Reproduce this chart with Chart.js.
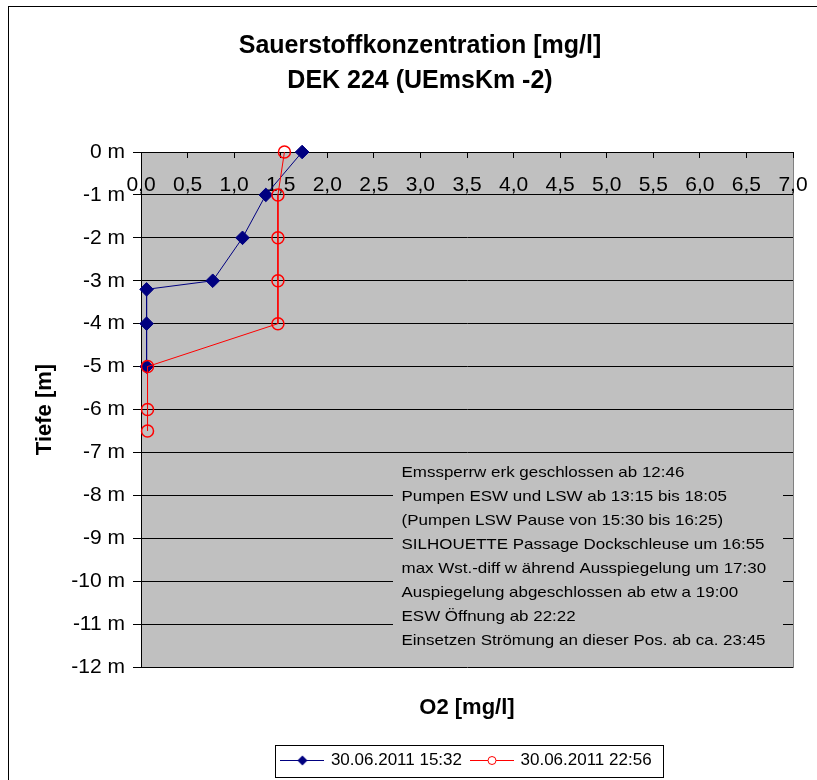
<!DOCTYPE html>
<html>
<head>
<meta charset="utf-8">
<title>Sauerstoffkonzentration DEK 224</title>
<script src="https://cdn.jsdelivr.net/npm/chart.js@4.4.1/dist/chart.umd.min.js"></script>
<style>
    html, body { margin: 0; padding: 0; background: #fff; }
    canvas { display: block; }
</style>
</head>
<body>
<canvas id="o2Chart" width="817" height="780"></canvas>
<script>
// Messprofile (Tiefe in m, O2 in mg/l)
const depthProfile1 = [0, -1, -2, -3, -3.2, -4, -5];
const o2Profile1 = [1.73, 1.34, 1.09, 0.77, 0.06, 0.06, 0.06];
const depthProfile2 = [0, -1, -2, -3, -4, -5, -6, -6.5];
const o2Profile2 = [1.54, 1.47, 1.47, 1.47, 1.47, 0.07, 0.07, 0.07];

const seriesLabels = ['30.06.2011 15:32', '30.06.2011 22:56'];
const titleLines = ['Sauerstoffkonzentration [mg/l]', 'DEK 224 (UEmsKm -2)'];
const noteLines = [
    'Emssperrw erk geschlossen ab 12:46',
    'Pumpen ESW und LSW ab 13:15 bis 18:05',
    '(Pumpen LSW Pause von 15:30 bis 16:25)',
    'SILHOUETTE Passage Dockschleuse um 16:55',
    'max Wst.-diff w ährend Ausspiegelung um 17:30',
    'Auspiegelung abgeschlossen ab etw a 19:00',
    'ESW Öffnung ab 22:22',
    'Einsetzen Strömung an dieser Pos. ab ca. 23:45'
];

const o2Min = 0;
const o2Max = 7;
const o2Step = 0.5;
const depthMin = -12;
const depthMax = 0;
const depthStep = 1;

const FONT = "'Liberation Sans', Arial, sans-serif";
Chart.defaults.font.family = FONT;
Chart.defaults.color = '#000';

function toPoints(xs, ys) {
    return xs.map((x, i) => ({ x: x, y: ys[i] }));
}

function makeLegendIcon(color, marker) {
    const c = document.createElement('canvas');
    c.width = 44;
    c.height = 14;
    const g = c.getContext('2d');
    g.strokeStyle = color;
    g.lineWidth = 1;
    g.beginPath();
    g.moveTo(0, 7.5);
    g.lineTo(44, 7.5);
    g.stroke();

    if (marker === 'diamond') {
        g.fillStyle = color;
        g.beginPath();
        g.moveTo(22, 2.5);
        g.lineTo(27, 7.5);
        g.lineTo(22, 12.5);
        g.lineTo(17, 7.5);
        g.closePath();
        g.fill();
    } else {
        g.fillStyle = '#fff';
        g.beginPath();
        g.arc(22, 7.5, 4, 0, Math.PI * 2);
        g.fill();
        g.stroke();
    }
    return c;
}

const legendIcons = [makeLegendIcon('#000080', 'diamond'), makeLegendIcon('#ff0000', 'circle')];

// Rahmen, Zeichenflaeche und Legendenrahmen
const frame = {
    id: 'frame',
    beforeDraw(chart) {
        const { ctx, chartArea } = chart;
        ctx.save();
        ctx.fillStyle = '#fff';
        ctx.fillRect(0, 0, chart.width, chart.height);
        ctx.strokeStyle = '#000';
        ctx.lineWidth = 1;
        ctx.strokeRect(8.5, 6.5, chart.width + 20, chart.height + 20);

        ctx.fillStyle = '#c0c0c0';
        ctx.fillRect(chartArea.left, chartArea.top, chartArea.right - chartArea.left, chartArea.bottom - chartArea.top);
        ctx.strokeStyle = '#808080';
        ctx.beginPath();
        ctx.moveTo(chartArea.right + 0.5, chartArea.top);
        ctx.lineTo(chartArea.right + 0.5, chartArea.bottom + 1);
        ctx.stroke();
        ctx.restore();
    },
    afterDraw(chart) {
        const boxes = chart.legend.legendHitBoxes;
        if (!boxes || !boxes.length) {
            return;
        }
        const first = boxes[0];
        const last = boxes[boxes.length - 1];
        const ctx = chart.ctx;
        ctx.save();
        ctx.strokeStyle = '#000';
        ctx.lineWidth = 1;
        const left = Math.round(first.left - 7) + 0.5;
        const right = Math.round(last.left + last.width + 11) + 0.5;
        const top = Math.round(first.top - 7) + 0.5;
        const bottom = Math.round(first.top + first.height + 8) + 0.5;
        ctx.strokeRect(left, top, right - left, bottom - top);
        ctx.restore();
    }
};

// Textfeld mit den Ereignissen
const notesBox = {
    id: 'notesBox',
    beforeDatasetsDraw(chart) {
        const { ctx, chartArea } = chart;
        const left = chartArea.left + 252;
        const top = chartArea.top + 306;
        ctx.save();
        ctx.fillStyle = '#c0c0c0';
        ctx.fillRect(left, top, 390, 197);
        ctx.fillStyle = '#000';
        ctx.font = '14.5px ' + FONT;
        ctx.textBaseline = 'middle';
        noteLines.forEach((line, i) => {
            ctx.save();
            ctx.translate(left + 8.5, top + 14.7 + i * 24);
            ctx.scale(1.17, 1);
            ctx.fillText(line, 0, 0);
            ctx.restore();
        });
        ctx.restore();
    }
};

const canvas = document.getElementById('o2Chart');
const ctx = canvas.getContext('2d');

const o2Chart = new Chart(ctx, {
    type: 'scatter',
    data: {
        datasets: [{
            label: seriesLabels[0],
            data: toPoints(o2Profile1, depthProfile1),
            showLine: true,
            borderColor: '#000080',
            backgroundColor: '#000080',
            borderWidth: 1,
            pointStyle: 'rectRot',
            pointRadius: 6.8,
            pointBorderWidth: 1,
            pointBackgroundColor: '#000080',
            clip: false,
            order: 1
        }, {
            label: seriesLabels[1],
            data: toPoints(o2Profile2, depthProfile2),
            showLine: true,
            borderColor: '#ff0000',
            backgroundColor: 'rgba(0,0,0,0)',
            borderWidth: 1,
            pointStyle: 'circle',
            pointRadius: 6,
            pointBorderWidth: 1.5,
            pointBackgroundColor: 'rgba(0,0,0,0)',
            clip: false,
            order: 0
        }]
    },
    options: {
        responsive: false,
        animation: false,
        events: [],
        layout: {
            padding: { left: 47, right: 24, top: 0, bottom: 1.5 }
        },
        plugins: {
            title: {
                display: true,
                text: titleLines,
                color: '#000',
                font: { size: 25, weight: 'bold', lineHeight: '35px' },
                padding: { top: 29, bottom: 43 }
            },
            legend: {
                position: 'bottom',
                fullSize: false,
                labels: {
                    usePointStyle: true,
                    pointStyleWidth: 40,
                    padding: 10,
                    color: '#000',
                    font: { size: 17 },
                    generateLabels: (chart) => chart.data.datasets.map((ds, i) => ({
                        text: ds.label,
                        pointStyle: legendIcons[i],
                        fillStyle: 'rgba(0,0,0,0)',
                        strokeStyle: 'rgba(0,0,0,0)',
                        lineWidth: 0,
                        hidden: false,
                        datasetIndex: i
                    }))
                }
            },
            tooltip: { enabled: false }
        },
        scales: {
            x: {
                type: 'linear',
                position: 'top',
                min: o2Min,
                max: o2Max,
                afterFit: (scale) => {
                    scale.height = 10;
                    scale.paddingLeft = 0;
                    scale.paddingRight = 0;
                },
                ticks: {
                    stepSize: o2Step,
                    mirror: true,
                    padding: 20.5,
                    autoSkip: false,
                    maxRotation: 0,
                    color: '#000',
                    font: { size: 21 },
                    callback: (v) => v.toFixed(1).replace('.', ',')
                },
                grid: {
                    drawOnChartArea: false,
                    color: '#000',
                    tickLength: -6
                },
                border: { display: true, color: '#000' }
            },
            x2: {
                type: 'linear',
                position: 'bottom',
                min: o2Min,
                max: o2Max,
                afterFit: (scale) => {
                    scale.height = 74.5;
                    scale.paddingLeft = 0;
                    scale.paddingRight = 0;
                },
                ticks: { display: false },
                grid: { display: false },
                border: { display: false },
                title: {
                    display: true,
                    text: 'O2 [mg/l]',
                    color: '#000',
                    font: { size: 22, weight: 'bold' },
                    padding: { top: 0, bottom: 20.3 }
                }
            },
            y: {
                type: 'linear',
                position: 'left',
                min: depthMin,
                max: depthMax,
                afterFit: (scale) => {
                    scale.width = 94;
                    scale.paddingTop = 0;
                    scale.paddingBottom = 0;
                },
                ticks: {
                    stepSize: depthStep,
                    padding: 8,
                    color: '#000',
                    font: { size: 21 },
                    callback: (v) => v + ' m'
                },
                grid: {
                    color: '#000',
                    tickLength: 8
                },
                border: { display: true, color: '#000' },
                title: {
                    display: true,
                    text: 'Tiefe [m]',
                    color: '#000',
                    font: { size: 22, weight: 'bold' },
                    padding: { top: -15.2, bottom: 0 }
                }
            }
        }
    },
    plugins: [frame, notesBox]
});
</script>
</body>
</html>
